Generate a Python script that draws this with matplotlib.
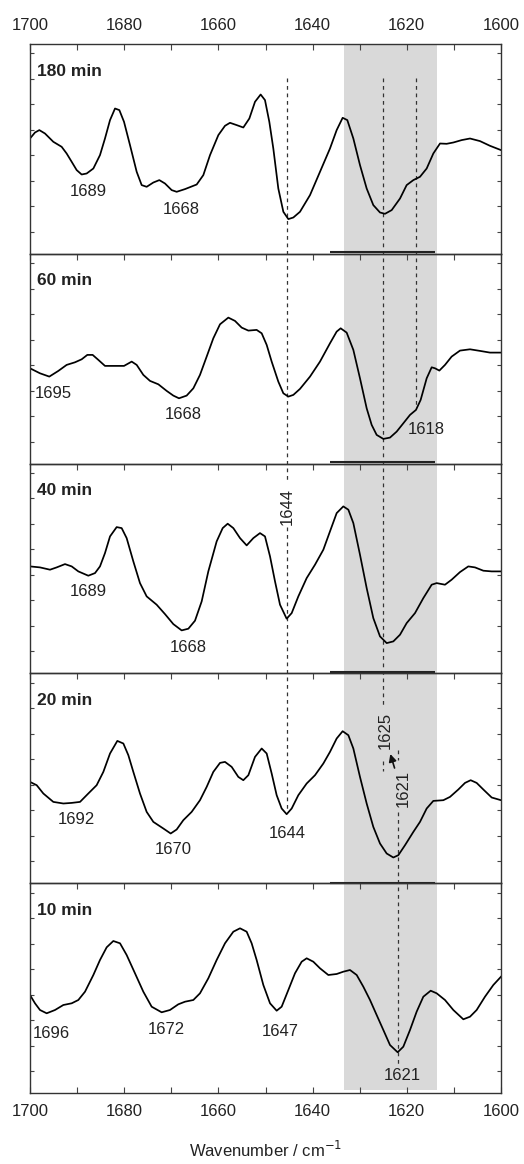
import numpy as np
import matplotlib
matplotlib.use('Agg')
import matplotlib.pyplot as plt
from matplotlib.ticker import MultipleLocator

plt.rcParams['font.family'] = ['Liberation Sans', 'DejaVu Sans']
plt.rcParams['font.size'] = 12
plt.rcParams['text.color'] = '#222222'

# difference spectra, intensity in arbitrary units (height above panel bottom)
panels = ['180 min', '60 min', '40 min', '20 min', '10 min']

x_180 = [1700.0, 1698.94, 1698.02, 1696.82, 1695.05, 1693.28, 1692.22, 1691.15, 1690.09, 1689.03, 1687.97,
         1686.55, 1685.14, 1684.08, 1683.01, 1681.95, 1681.03, 1680.04, 1678.77, 1677.35, 1676.29, 1675.23,
         1673.81, 1672.54, 1671.34, 1669.92, 1668.86, 1667.09, 1664.61, 1663.20, 1661.78, 1660.01, 1658.60,
         1657.54, 1656.12, 1654.71, 1653.43, 1652.23, 1651.03, 1650.11, 1649.19, 1648.34, 1647.28, 1646.21,
         1645.15, 1644.09, 1642.68, 1640.55, 1638.43, 1636.31, 1634.89, 1633.62, 1632.63, 1631.35, 1629.94,
         1628.52, 1627.11, 1625.69, 1624.63, 1623.21, 1621.44, 1620.03, 1618.61, 1617.20, 1615.78, 1614.37,
         1612.95, 1611.54, 1610.12, 1608.35, 1606.58, 1604.46, 1602.34, 1600.0]
y_180 = [115.3, 121.3, 123.7, 120.3, 112, 107, 100.3, 92, 83.7, 79.3, 80.3,
         85.3, 98.7, 115.3, 133.7, 145.3, 143.7, 132, 108.7, 82, 68.7, 67,
         71.3, 73.7, 70.3, 63.7, 62, 64.7, 69.3, 78.7, 98.7, 118.7, 128,
         131, 128.7, 126.3, 135.3, 152, 159.3, 153.7, 132, 105.3, 65.3, 42,
         34.7, 36.3, 42, 58.7, 82, 105.3, 123.7, 136, 133.7, 115.3, 88.7,
         65.3, 48.7, 41.3, 40, 43.7, 55.3, 68.7, 73.7, 77, 85.3, 100.3,
         110.3, 110, 111.3, 113.7, 115.3, 112.7, 108, 103.7]

x_60 = [1700.0, 1697.88, 1695.90, 1693.98, 1692.22, 1690.45, 1689.03, 1687.83, 1686.70, 1685.49, 1684.08,
        1681.95, 1680.04, 1678.41, 1677.35, 1675.94, 1674.52, 1672.75, 1670.98, 1669.57, 1668.37, 1666.74,
        1665.32, 1663.91, 1662.49, 1661.08, 1659.66, 1657.89, 1656.48, 1655.06, 1653.64, 1651.88, 1650.81,
        1649.75, 1648.69, 1647.28, 1646.21, 1645.15, 1644.09, 1642.68, 1640.55, 1638.43, 1636.31, 1634.89,
        1634.04, 1632.77, 1631.35, 1629.94, 1628.52, 1627.46, 1626.40, 1624.98, 1623.57, 1622.15, 1620.74,
        1619.32, 1618.05, 1617.06, 1615.78, 1614.72, 1614.01, 1613.09, 1611.89, 1610.48, 1608.71, 1606.58,
        1604.46, 1602.34, 1600.0]
y_60 = [95.3, 90.3, 87, 92.7, 98.7, 101.3, 104.3, 108.7, 108.7, 103.7, 97.7,
        97.7, 97.7, 102, 98.7, 88.7, 82.7, 79.3, 72.7, 68, 65.3, 68,
        75.3, 88.7, 107, 125.3, 139.3, 146, 142.7, 136, 133, 133.7, 130.3,
        118.7, 102, 82, 70.3, 67, 68.7, 74.7, 87, 102, 120.3, 132,
        135.3, 131, 113.7, 85.3, 55.3, 38.7, 28.7, 24.7, 26, 32, 40.3,
        48.7, 53.7, 63.7, 85.3, 96.3, 95.3, 93, 98.7, 107, 113, 114.3,
        112.7, 111, 111]

x_40 = [1700.0, 1697.88, 1695.75, 1694.34, 1692.57, 1691.15, 1689.74, 1687.62, 1686.20, 1685.14, 1684.08,
        1683.01, 1681.60, 1680.54, 1679.48, 1678.06, 1676.65, 1675.23, 1673.11, 1671.34, 1669.57, 1667.80,
        1666.38, 1664.97, 1663.55, 1662.14, 1660.37, 1659.09, 1658.03, 1656.83, 1655.41, 1654.00, 1652.58,
        1651.17, 1650.11, 1649.04, 1647.98, 1646.92, 1645.51, 1644.44, 1643.03, 1641.26, 1639.49, 1637.72,
        1636.31, 1634.89, 1633.48, 1632.41, 1631.35, 1629.94, 1628.52, 1627.11, 1625.69, 1624.27, 1622.86,
        1621.44, 1620.03, 1618.26, 1616.49, 1614.72, 1613.66, 1611.89, 1610.48, 1608.71, 1606.94, 1605.52,
        1603.75, 1601.98, 1600.0]
y_40 = [107, 106, 103.7, 106, 109.3, 107, 102, 97.7, 100.3, 107, 120.3,
        137, 146.3, 145.3, 135.3, 112, 90.3, 77, 68.7, 59.3, 49.3, 43,
        44.7, 52.7, 72, 102, 132, 145.3, 149.7, 145.3, 135.3, 128, 135.3,
        140.3, 137, 117, 92, 68.7, 54.7, 60.3, 77, 95.3, 108.7, 123.7,
        142, 160.3, 167, 163.7, 150.3, 118.7, 85.3, 55.3, 37, 30.3, 32,
        38.7, 50.3, 60.3, 75.3, 88.7, 90.3, 88.7, 93.7, 101.3, 107, 106,
        102.7, 102, 102]

x_20 = [1700.0, 1698.58, 1697.17, 1695.05, 1692.92, 1691.15, 1689.38, 1687.62, 1685.85, 1684.43, 1683.01,
        1681.46, 1680.18, 1679.12, 1678.06, 1676.65, 1675.23, 1673.81, 1671.69, 1670.13, 1668.86, 1667.45,
        1665.68, 1663.91, 1662.49, 1661.08, 1659.66, 1658.60, 1657.18, 1655.77, 1654.71, 1653.64, 1652.23,
        1650.81, 1649.75, 1648.69, 1647.63, 1646.57, 1645.51, 1644.44, 1643.03, 1641.26, 1639.49, 1637.72,
        1636.31, 1634.89, 1633.62, 1632.41, 1631.35, 1629.94, 1628.52, 1627.11, 1625.69, 1624.27, 1622.86,
        1621.80, 1620.38, 1618.61, 1617.20, 1615.78, 1614.37, 1612.24, 1610.83, 1609.06, 1607.64, 1606.44,
        1605.17, 1603.75, 1601.98, 1600.0]
y_20 = [101.3, 98, 89.7, 81.3, 79.7, 80.3, 81.3, 89.7, 98, 111.3, 129.7,
        142.3, 139.7, 128, 111.3, 89.7, 71.3, 61.3, 54.7, 49.7, 53.7, 63,
        71.3, 83, 96.3, 111.3, 120.3, 121.3, 116.3, 106.3, 103, 108, 126.3,
        134.7, 129.7, 109.7, 88, 74.7, 69, 74.7, 88, 99.7, 108, 119.7,
        131.3, 144.7, 152, 148, 134.7, 106.3, 79.7, 56.3, 39.7, 29.7, 25.7,
        28, 38, 51.3, 61.3, 74.7, 82.3, 83, 86.3, 93.7, 100.3, 103,
        100.3, 93.7, 85.7, 83]

x_10 = [1700.0, 1698.94, 1697.88, 1696.46, 1694.69, 1692.92, 1691.15, 1689.74, 1688.32, 1686.55, 1685.14,
        1683.72, 1682.31, 1680.89, 1679.48, 1677.71, 1675.94, 1674.17, 1672.05, 1670.28, 1668.51, 1667.09,
        1665.32, 1663.91, 1662.14, 1660.37, 1658.60, 1656.83, 1655.41, 1654.00, 1652.94, 1651.88, 1650.46,
        1649.04, 1647.63, 1646.57, 1645.15, 1643.74, 1642.32, 1641.26, 1639.85, 1638.43, 1636.66, 1634.89,
        1633.48, 1632.06, 1630.64, 1629.23, 1627.81, 1626.40, 1624.98, 1623.57, 1621.94, 1620.74, 1619.32,
        1617.91, 1616.49, 1614.93, 1613.66, 1611.89, 1610.12, 1608.00, 1606.58, 1605.17, 1603.40, 1601.63,
        1600.0]
y_10 = [98, 89.7, 83, 79.7, 83, 88, 89.7, 93, 101.3, 118, 133,
        145.7, 152, 149.7, 138, 119.7, 101.3, 86.3, 80.7, 83, 88.7, 91.3,
        93, 99.7, 114.7, 133, 149.7, 161.3, 164.7, 161.3, 149.7, 133, 108,
        89.7, 82.3, 86.3, 103, 119.7, 131.3, 134.7, 131.3, 124.7, 118, 119,
        121.3, 123, 118, 106.3, 93, 78, 63, 48, 40.7, 46.3, 63,
        81.3, 96.3, 102.3, 99.7, 93, 83, 73.7, 76.3, 83, 96.3, 108,
        116.3]

xs = [x_180, x_60, x_40, x_20, x_10]
ys = [y_180, y_60, y_40, y_20, y_10]

# peak labels per panel: (wavenumber, height, text, rotation)
peak_labels = [
    [(1687.6, 62, '1689', 0), (1667.8, 44, '1668', 0)],
    [(1695.0, 70, '1695', 0), (1667.4, 49, '1668', 0), (1615.8, 34, '1618', 0)],
    [(1687.6, 82, '1689', 0), (1666.4, 26, '1668', 0), (1645.4, 167, '1644', 90)],
    [(1690.2, 64, '1692', 0), (1669.6, 34, '1670', 0), (1645.4, 50, '1644', 0),
     (1624.6, 153, '1625', 90), (1620.8, 95, '1621', 90)],
    [(1695.4, 60, '1696', 0), (1671.0, 63, '1672', 0), (1646.9, 61, '1647', 0), (1621.0, 18, '1621', 0)],
]

band = (1633.3, 1613.5)
# guide lines: wavenumber, list of (top, bottom) in figure pixels
guides = [
    (1645.4, [(78, 481), (527, 810)]),
    (1625.0, [(78, 705), (761, 771)]),
    (1618.0, [(78, 408)]),
    (1621.9, [(750, 760), (812, 1065)]),
]

W, H = 524, 1164
left, right, top, bottom = 30, 501, 44, 1093

fig = plt.figure(figsize=(W / 100, H / 100), dpi=100)

# overlay for band, guide lines, arrow (in figure-pixel y units)
ov = fig.add_axes([left / W, 0, (right - left) / W, 1], zorder=0)
ov.set_xlim(1700, 1600)
ov.set_ylim(H, 0)
ov.axis('off')
ov.fill_betweenx([45, 1090], band[0], band[1], color='#d9d9d9', lw=0)
for wn, segs in guides:
    for a, b in segs:
        ov.plot([wn, wn], [a, b], ls=(0, (3, 3)), color='#333333', lw=0.9)
ov.annotate('', xy=(1623.5, 754), xytext=(1622.6, 768),
            arrowprops=dict(arrowstyle='-|>', color='#111111', lw=1.2, mutation_scale=11,
                            shrinkA=0, shrinkB=0))
for yy in [252, 462, 672, 883]:
    ov.plot([1636.3, 1614.0], [yy, yy], color='#222222', lw=1.5, solid_capstyle='butt')

ph = (bottom - top) / 5
for i, name in enumerate(panels):
    ytop = top + i * ph
    ax = fig.add_axes([left / W, 1 - (ytop + ph) / H, (right - left) / W, ph / H], zorder=1)
    ax.patch.set_alpha(0)
    ax.plot(xs[i], ys[i], color='black', lw=1.25, solid_joinstyle='round')
    ax.set_xlim(1700, 1600)
    ax.set_ylim(0, ph)
    ax.set_yticks(np.arange(22, ph, 25.5))
    ax.xaxis.set_major_locator(MultipleLocator(20))
    ax.xaxis.set_minor_locator(MultipleLocator(10))
    ax.tick_params(axis='y', direction='in', left=True, right=True, labelleft=False, length=3,
                   width=0.8, color='#444444')
    ax.tick_params(axis='x', which='both', direction='in', top=True, bottom=(i == 4),
                   labeltop=(i == 0), labelbottom=(i == 4), length=4, width=0.8, pad=8,
                   color='#444444', labelsize=12, labelcolor='#222222')
    for s in ax.spines.values():
        s.set_linewidth(1.0)
        s.set_color('#333333')
    ax.text(0.014, 1 - 27 / ph, name, transform=ax.transAxes, fontweight='bold',
            fontsize=12.5, va='center', ha='left')
    for wn, h, t, rot in peak_labels[i]:
        ax.text(wn, h, t, ha='center', va='center', rotation=rot, fontsize=12)

fig.text((left + right) / 2 / W, 1 - 1150 / H, 'Wavenumber / cm$^{-1}$', ha='center', va='center',
         fontsize=12)

fig.savefig('out.png', dpi=100)
